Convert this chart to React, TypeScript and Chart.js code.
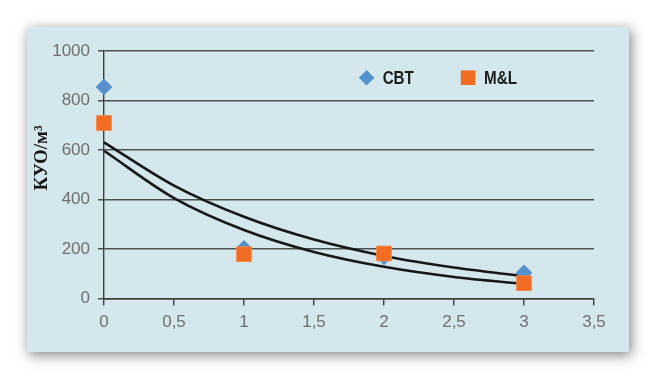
import React, { useEffect, useRef } from "react";
import { Chart, registerables } from "chart.js";

Chart.register(...registerables);

const xValues = [0, 1, 2, 3];
const cbtValues = [855, 203, 168, 104];
const mlValues = [709, 179, 182, 62];
const trendX = [0, 0.5, 1, 1.5, 2, 2.5, 3];
const cbtTrend = [631, 456, 330, 238, 172, 125, 90];
const mlTrend = [597, 406, 277, 188, 128, 87, 59];
const seriesNames = ["CBT", "M&L"];
const yTitle = "КУО/м³";
const xMax = 3.5;
const yMax = 1000;

const SANS = '"Liberation Sans", Arial, sans-serif';
const BLUE = "#5592cd";
const ORANGE = "#f26c22";
const W = 602;
const H = 325;

const overlayPlugin = {
  id: "overlay",
  afterDraw(chart: any) {
    const { ctx, chartArea } = chart;
    const cw = chartArea.right - chartArea.left;
    const ch = chartArea.bottom - chartArea.top;
    // y axis title
    ctx.save();
    ctx.translate(15, chartArea.top + ch * 0.432);
    ctx.rotate(-Math.PI / 2);
    ctx.font = 'bold 19px "Liberation Serif", "Times New Roman", serif';
    ctx.fillStyle = "#151515";
    ctx.textAlign = "center";
    ctx.textBaseline = "middle";
    ctx.fillText(yTitle, 0, 0);
    ctx.restore();

    // legend
    const ly = chartArea.top + ch * 0.108;
    const items = [
      { name: seriesNames[0], x: chartArea.left + cw * 0.536, color: BLUE, shape: "diamond" },
      { name: seriesNames[1], x: chartArea.left + cw * 0.743, color: ORANGE, shape: "square" },
    ];
    for (const it of items) {
      ctx.save();
      ctx.fillStyle = it.color;
      ctx.beginPath();
      if (it.shape === "diamond") {
        const r = 7.8;
        ctx.moveTo(it.x, ly - r);
        ctx.lineTo(it.x + r, ly);
        ctx.lineTo(it.x, ly + r);
        ctx.lineTo(it.x - r, ly);
        ctx.closePath();
      } else {
        const s = 7.3;
        ctx.rect(it.x - s, ly - s, 2 * s, 2 * s);
      }
      ctx.fill();
      ctx.translate(it.x + 16, ly + 1);
      ctx.scale(0.8, 1);
      ctx.font = "bold 19px " + SANS;
      ctx.fillStyle = "#1c1c1c";
      ctx.textAlign = "left";
      ctx.textBaseline = "middle";
      ctx.fillText(it.name, 0, 0);
      ctx.restore();
    }
  },
};

export default function App() {
  const ref = useRef<HTMLCanvasElement | null>(null);
  useEffect(() => {
    if (!ref.current) return;
    const chart = new Chart(ref.current, {
      type: "scatter",
      data: {
        datasets: [
          {
            label: seriesNames[1],
            data: xValues.map((x, i) => ({ x, y: mlValues[i] })),
            pointStyle: "rect",
            pointRadius: 10.4,
            backgroundColor: ORANGE,
            borderColor: "#f5884a",
            borderWidth: 1,
            clip: false,
          } as any,
          {
            label: seriesNames[0],
            data: xValues.map((x, i) => ({ x, y: cbtValues[i] })),
            pointStyle: "rectRot",
            pointRadius: 8.3,
            backgroundColor: BLUE,
            borderColor: BLUE,
            borderWidth: 0,
            clip: false,
          } as any,
          {
            label: seriesNames[0] + " trend",
            data: trendX.map((x, i) => ({ x, y: cbtTrend[i] })),
            showLine: true,
            pointRadius: 0,
            borderColor: "#181818",
            borderWidth: 2.6,
            cubicInterpolationMode: "monotone",
            clip: false,
          } as any,
          {
            label: seriesNames[1] + " trend",
            data: trendX.map((x, i) => ({ x, y: mlTrend[i] })),
            showLine: true,
            pointRadius: 0,
            borderColor: "#181818",
            borderWidth: 2.6,
            cubicInterpolationMode: "monotone",
            clip: false,
          } as any,
        ],
      },
      options: {
        responsive: false,
        animation: false,
        layout: { padding: { left: 0, right: 35, top: 24, bottom: 0 } },
        plugins: {
          legend: { display: false },
          tooltip: { enabled: false },
          title: { display: false },
        },
        scales: {
          x: {
            type: "linear",
            min: 0,
            max: xMax,
            afterFit: (s: any) => {
              s.height = 53.5;
            },
            ticks: {
              stepSize: 0.5,
              color: "#6f6f6f",
              padding: 7,
              font: { family: SANS, size: 17 },
              callback: (v: any) => String(v).replace(".", ","),
            },
            grid: {
              drawOnChartArea: false,
              drawTicks: true,
              tickLength: 7,
              color: "#3c3c3c",
              lineWidth: 1.4,
            },
            border: { display: true, color: "#3c3c3c", width: 1.4 },
          },
          y: {
            min: 0,
            max: yMax,
            afterFit: (s: any) => {
              s.width = 77;
            },
            ticks: {
              stepSize: 200,
              color: "#6f6f6f",
              padding: 8,
              font: { family: SANS, size: 17 },
              callback: (v: any) => String(v),
            },
            grid: {
              color: "#4a5254",
              lineWidth: 1.5,
              tickLength: 6,
              drawTicks: true,
            },
            border: { display: true, color: "#3c3c3c", width: 1.4 },
          },
        },
      },
      plugins: [overlayPlugin],
    } as any);
    return () => chart.destroy();
  }, []);

  return (
    <div
      style={{
        position: "absolute",
        left: 27,
        top: 27,
        width: W,
        height: H,
        background: "#d4e7ec",
        boxShadow: "2px 3px 12px rgba(0,0,0,0.5)",
      }}
    >
      <canvas ref={ref} width={W} height={H} style={{ display: "block" }} />
    </div>
  );
}
